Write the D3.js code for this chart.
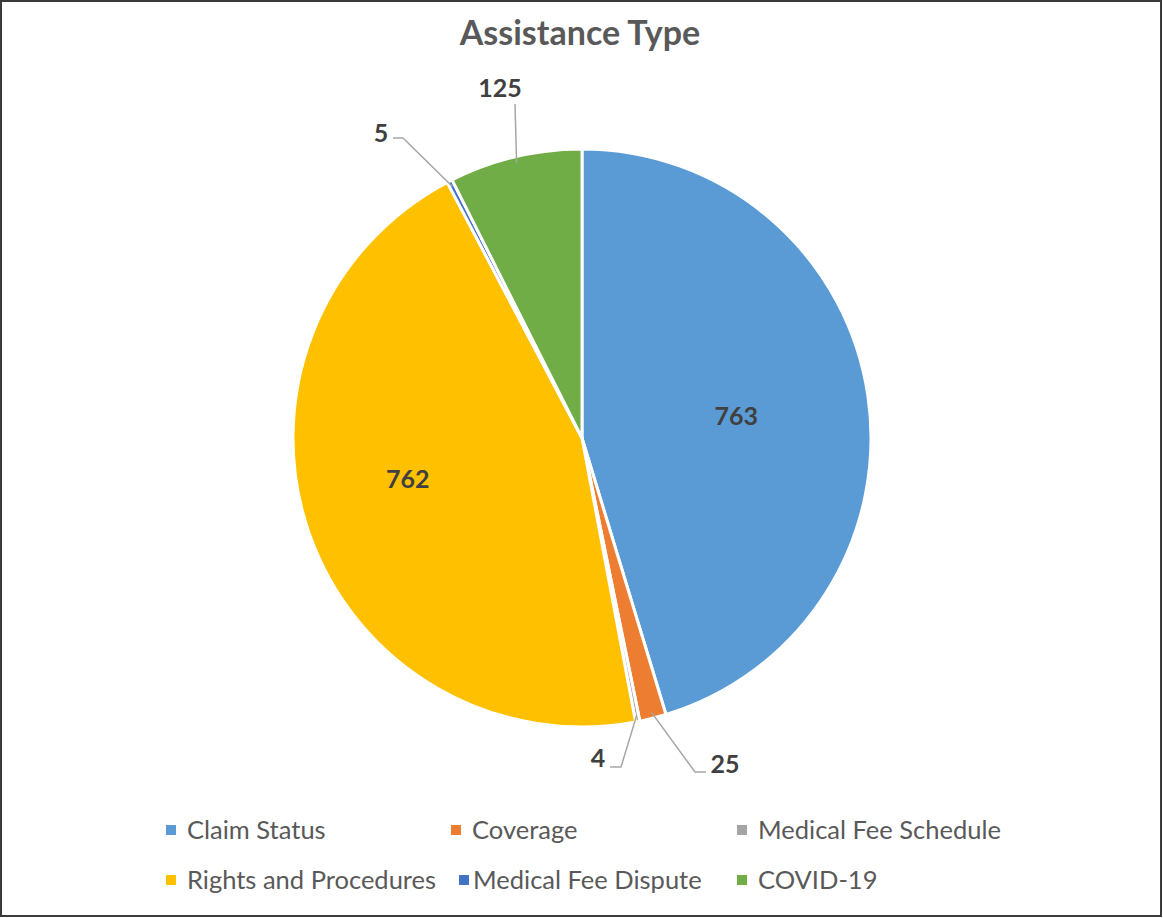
<!DOCTYPE html>
<html><head><meta charset="utf-8">
<script src="https://cdn.jsdelivr.net/npm/d3@7"></script>
<style>html,body{margin:0;padding:0;background:#fff;}svg{display:block;}</style>
</head><body>
<script>
const categories = ["Claim Status","Coverage","Medical Fee Schedule","Rights and Procedures","Medical Fee Dispute","COVID-19"];
const values = [763, 25, 4, 762, 5, 125];
const colors = ["#5B9BD5","#ED7D31","#A5A5A5","#FFC000","#4472C4","#70AD47"];
const title = "Assistance Type";

const W = 1163, H = 918;
const cx = 582, cy = 438, R = 289;
const font = "Lato, 'Open Sans', sans-serif";

const svg = d3.select("body").append("svg").attr("width", W).attr("height", H);
svg.append("rect").attr("x",1).attr("y",1).attr("width",W-3).attr("height",H-3)
  .attr("fill","#fff").attr("stroke","#3a3a3a").attr("stroke-width",2);

svg.append("text").attr("x",580).attr("y",45).attr("text-anchor","middle")
  .attr("font-family",font).attr("font-weight","bold").attr("font-size",34)
  .attr("fill","#595959").text(title);

const data = categories.map((c,i)=>({cat:c, value:values[i], color:colors[i]}));
const pie = d3.pie().value(d=>d.value).sort(null);
const arcs = pie(data);
const arc = d3.arc().innerRadius(0).outerRadius(R);
const g = svg.append("g").attr("transform",`translate(${cx},${cy})`);
g.selectAll("path").data(arcs).join("path")
  .attr("d",arc).attr("fill",d=>d.data.color)
  .attr("stroke","#fff").attr("stroke-width",3).attr("stroke-linejoin","round");

const labelLayout = [
  {type:"in", r:0.55, dx:-3, dy:2},
  {type:"out", elbow:[113,334], end:[124,334], text:[143,326]},
  {type:"out", elbow:[39,329], end:[28,329], text:[16,320]},
  {type:"in", r:0.62, dx:-5, dy:-18},
  {type:"out", elbow:[-179,-300], end:[-189,-300], text:[-201,-305]},
  {type:"out", elbow:[-67,-334], end:[-67,-334], text:[-82,-350]}
];
const labelArc = r => d3.arc().innerRadius(r).outerRadius(r);
const fs = 25;
arcs.forEach((a,i)=>{
  const L = labelLayout[i];
  const mid = (a.startAngle+a.endAngle)/2;
  if (L.type==="in"){
    const c = labelArc(R*L.r).centroid(a);
    g.append("text").attr("x",c[0]+L.dx).attr("y",c[1]+L.dy).attr("dy","0.35em")
      .attr("text-anchor","middle").attr("font-family",font).attr("font-weight","bold")
      .attr("font-size",fs).attr("fill","#404040").text(a.data.value);
  } else {
    const p0 = [Math.sin(mid)*(R-6), -Math.cos(mid)*(R-6)];
    g.append("polyline").attr("points",[p0,L.elbow,L.end].map(p=>p.join(",")).join(" "))
      .attr("fill","none").attr("stroke","#A6A6A6").attr("stroke-width",1.5);
    g.append("text").attr("x",L.text[0]).attr("y",L.text[1]).attr("dy","0.35em")
      .attr("text-anchor","middle").attr("font-family",font).attr("font-weight","bold")
      .attr("font-size",fs).attr("fill","#404040").text(a.data.value);
  }
});

const legX = [166, 451, 737], legY = [830, 880];
const lg = svg.append("g");
data.forEach((d,i)=>{
  const col = i%3, row = Math.floor(i/3);
  let x = legX[col], gap = 21;
  if (i===4) { x = 459; gap = 14; }
  const y = legY[row];
  lg.append("rect").attr("x",x).attr("y",y-5).attr("width",10).attr("height",10).attr("fill",d.color);
  lg.append("text").attr("x",x+gap).attr("y",y).attr("dy","0.35em")
    .attr("font-family",font).attr("font-size",25.5).attr("fill","#595959").text(d.cat);
});
</script>
</body></html>
